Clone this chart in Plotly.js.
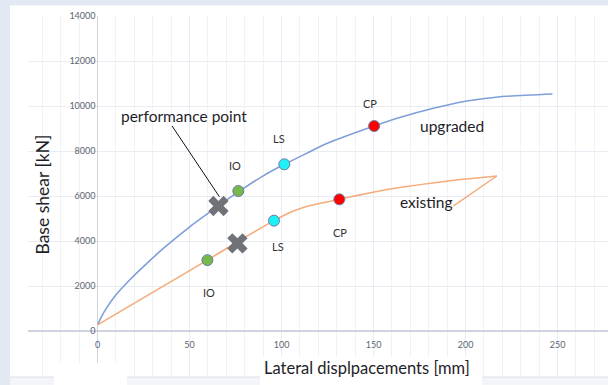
<!DOCTYPE html>
<html><head><meta charset="utf-8">
<script src="https://cdn.plot.ly/plotly-3.0.1.min.js"></script>
<style>html,body{margin:0;padding:0;background:#fff}#chart{width:608px;height:385px}</style>
</head><body><div id="chart"></div>
<script>
// Pushover curves (lateral displacement [mm] vs base shear [kN])
const upgradedX = [0, 2, 5, 9.5, 17.7, 25.8, 36.7, 50.3, 65.7, 76.5, 88.9, 101.5, 110, 124.6, 150.3, 164.7, 182.5, 200.6, 218.8, 247.2];
const upgradedY = [270, 620, 1040, 1560, 2290, 2930, 3738, 4644, 5560, 6180, 6840, 7408, 7750, 8330, 9111, 9500, 9900, 10222, 10413, 10533];
const existingX = [0, 59.7, 74.7, 95.9, 106.4, 115.5, 131.4, 142.7, 160.8, 191.6, 217];
const existingY = [270, 3150, 3898, 4904, 5330, 5580, 5852, 6050, 6330, 6681, 6889];

// Performance levels (IO, LS, CP)
const levelNames = ["IO", "LS", "CP"];
const levelColors = ["#76b84a", "#1ef0f5", "#ff0000"];
const upgradedLevelX = [76.5, 101.5, 150.3];
const upgradedLevelY = [6222, 7408, 9111];
const existingLevelX = [59.7, 95.9, 131.4];
const existingLevelY = [3150, 4904, 5852];

// Performance points
const perfX = [65.7, 76];
const perfY = [5556, 3896];

// Axis ticks
const xTicks = [0, 50, 100, 150, 200, 250];
const yTicks = [0, 2000, 4000, 6000, 8000, 10000, 12000, 14000];

const L = 28, T = 16, W = 608, H = 385, B = 9;
const plotW = W - L, plotH = H - T - B;
const px = p => (p - L) / plotW;
const py = p => (H - B - p) / plotH;

const traces = [
  {x: upgradedX, y: upgradedY, mode: 'lines', line: {color: '#7f9fd9', width: 1.6, shape: 'spline', smoothing: 0.5}, hoverinfo: 'skip'},
  {x: existingX, y: existingY, mode: 'lines', line: {color: '#f5ac7a', width: 1.6, shape: 'spline', smoothing: 0.5}, hoverinfo: 'skip'},
  {x: perfX, y: perfY, mode: 'markers', marker: {symbol: 'x', size: 18, color: '#6f7378', line: {width: 0}}},
  {x: upgradedLevelX, y: upgradedLevelY, mode: 'markers', marker: {size: 11, color: levelColors, line: {color: '#6a7ea6', width: 1}}},
  {x: existingLevelX, y: existingLevelY, mode: 'markers', marker: {size: 11, color: levelColors, line: {color: '#6a7ea6', width: 1}}}
];

const fam = 'Lato, "Open Sans", sans-serif';
const small = {family: fam, size: 11, color: '#333'};
const big = {family: fam, size: 15.5, color: '#1e1e28'};

const annotations = [
  {x: 74.7, y: 7378, text: levelNames[0], font: small},
  {x: 98.8, y: 8563, text: levelNames[1], font: small},
  {x: 148.1, y: 10120, text: levelNames[2], font: small},
  {x: 60.8, y: 1704, text: levelNames[0], font: small},
  {x: 98.3, y: 3748, text: levelNames[1], font: small},
  {x: 131.8, y: 4370, text: levelNames[2], font: small},
  {x: 47, y: 9556, text: 'performance point', font: big},
  {x: 192.4, y: 9124, text: 'upgraded', font: big},
  {x: 178.9, y: 5747, text: 'existing', font: big},
  {xref: 'paper', yref: 'paper', x: px(366.5), y: py(368), text: 'Lateral displpacements [mm]', font: {family: fam, size: 16.5, color: '#1e1e28'}},
  {xref: 'paper', yref: 'paper', x: px(42), y: py(194.5), text: 'Base shear [kN]', textangle: -90, font: {family: fam, size: 17.5, color: '#1e1e28'}}
].map(a => Object.assign({xref: 'x', yref: 'y', showarrow: false, xanchor: 'center', yanchor: 'middle'}, a));

const bg = '#e3e9f2';
const shapes = [
  {type: 'line', xref: 'x', yref: 'y', x0: 40.5, y0: 9111, x1: 66.2, y1: 5969, line: {color: '#111', width: 1}},
  {type: 'line', xref: 'x', yref: 'y', x0: 193.4, y0: 5556, x1: 217, y1: 6889, line: {color: '#f5ac7a', width: 1.5}},
  // surrounding page elements
  {type: 'rect', xref: 'paper', yref: 'paper', x0: px(10), x1: px(608), y0: py(377), y1: py(385), fillcolor: '#f3f5f8', line: {width: 0}, layer: 'above'},
  {type: 'line', xref: 'paper', yref: 'paper', x0: px(10), x1: px(608), y0: py(377), y1: py(377), line: {color: '#d9dee6', width: 1}, layer: 'above'},
  {type: 'rect', xref: 'paper', yref: 'paper', x0: px(54), x1: px(127), y0: py(363), y1: py(385), fillcolor: '#ffffff', line: {width: 0}, layer: 'above'},
  {type: 'rect', xref: 'paper', yref: 'paper', x0: px(260), x1: px(482), y0: py(357), y1: py(385), fillcolor: '#ffffff', line: {width: 0}, layer: 'above'},
  {type: 'rect', xref: 'paper', yref: 'paper', x0: px(0), x1: px(10), y0: py(0), y1: py(385), fillcolor: bg, line: {width: 0}, layer: 'above'},
  {type: 'rect', xref: 'paper', yref: 'paper', x0: px(0), x1: px(608), y0: py(0), y1: py(5.5), fillcolor: bg, line: {width: 0}, layer: 'above'}
];

const tickFont = {family: fam, size: 9, color: '#5d6572'};

const layout = {
  width: W, height: H, autosize: false,
  margin: {l: L, r: 0, t: T, b: B, pad: 0},
  paper_bgcolor: '#ffffff', plot_bgcolor: '#ffffff',
  showlegend: false,
  xaxis: {
    range: [-37.8, 277.4], anchor: 'free', position: py(331),
    tickmode: 'array', tickvals: xTicks, ticktext: xTicks.map(String),
    showgrid: true, gridcolor: '#e9edf3', gridwidth: 1,
    minor: {tickmode: 'linear', tick0: 0, dtick: 10, showgrid: true, gridcolor: '#f0f2f6', gridwidth: 1},
    zeroline: true, zerolinecolor: '#cdd4e0', zerolinewidth: 1.6,
    showline: false, ticks: '', ticklabelstandoff: 7, tickfont: tickFont, fixedrange: true
  },
  yaxis: {
    range: [-2000, 14000], anchor: 'free', position: px(97.5),
    tickmode: 'array', tickvals: yTicks, ticktext: yTicks.map(String),
    showgrid: true, gridcolor: '#e9edf3', gridwidth: 1,
    zeroline: true, zerolinecolor: '#cdd4e0', zerolinewidth: 1.6,
    showline: false, ticks: '', ticklabelstandoff: 2, tickfont: tickFont, fixedrange: true
  },
  annotations: annotations,
  shapes: shapes
};

Plotly.newPlot('chart', traces, layout, {staticPlot: true, displayModeBar: false});
</script>
</body></html>
